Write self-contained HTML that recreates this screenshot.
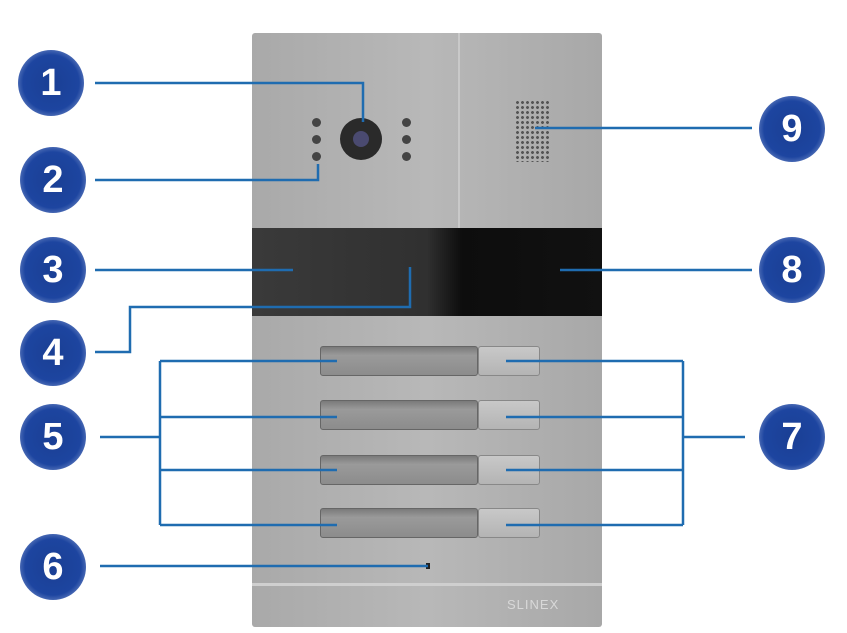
<!DOCTYPE html>
<html><head><style>
body{margin:0;width:847px;height:633px;background:#fff;position:relative;overflow:hidden;font-family:"Liberation Sans",Arial,sans-serif}
.p{position:absolute}
.c{position:absolute;width:66px;height:66px;border-radius:50%;background:radial-gradient(circle,#1a3f94 0,#1d45a0 60%,#7d95cc 85%,rgba(255,255,255,0) 100%);color:#fff;font-weight:bold;font-size:38px;line-height:66px;text-align:center}
.strip{position:absolute;left:320px;width:158px;height:30px;background:linear-gradient(#7a7a7a,#9a9a9a 30%,#8c8c8c);border:1px solid #666;border-radius:3px;box-sizing:border-box}
.btn{position:absolute;left:478px;width:62px;height:30px;background:linear-gradient(#c8c8c8,#b4b4b4);border:1px solid #888;border-radius:3px;box-sizing:border-box}
.led{position:absolute;width:9px;height:9px;border-radius:50%;background:#444}
</style></head><body>
<div class="p" style="left:252px;top:33px;width:350px;height:594px;background:linear-gradient(90deg,#a9a9a9,#b8b8b8 50%,#a8a8a8);border-radius:3px"></div>
<div class="p" style="left:458px;top:33px;width:2px;height:195px;background:#c9c9c9"></div>
<div class="p" style="left:252px;top:228px;width:350px;height:88px;background:linear-gradient(90deg,#3a3a3a,#303030 50%,#0d0d0d 60%,#111)"></div>
<div class="p" style="left:252px;top:583px;width:350px;height:3px;background:#cfcfcf"></div>
<div class="p" style="left:507px;top:597px;color:#d8d8d8;font-size:13px;letter-spacing:1px">SLINEX</div>
<div class="p" style="left:340px;top:118px;width:42px;height:42px;border-radius:50%;background:#2a2a2a"></div>
<div class="p" style="left:353px;top:131px;width:16px;height:16px;border-radius:50%;background:#4a4a70"></div>
<div class="led" style="left:312px;top:118px"></div><div class="led" style="left:312px;top:135px"></div><div class="led" style="left:312px;top:152px"></div>
<div class="led" style="left:402px;top:118px"></div><div class="led" style="left:402px;top:135px"></div><div class="led" style="left:402px;top:152px"></div>
<div class="p" style="left:515px;top:100px;width:36px;height:62px;background:radial-gradient(circle,#555 1.3px,transparent 1.6px) 0 0/5px 5px"></div>
<div class="strip" style="top:346px"></div><div class="btn" style="top:346px"></div>
<div class="strip" style="top:400px"></div><div class="btn" style="top:400px"></div>
<div class="strip" style="top:455px"></div><div class="btn" style="top:455px"></div>
<div class="strip" style="top:508px"></div><div class="btn" style="top:508px"></div>
<div class="p" style="left:426px;top:563px;width:4px;height:6px;background:#222"></div>
<svg class="p" style="left:0;top:0" width="847" height="633"><g stroke="#1f6cb0" stroke-width="2.5" fill="none">
<polyline points="95,83 363,83 363,122"/>
<polyline points="95,180 318,180 318,164"/>
<line x1="95" y1="270" x2="293" y2="270"/>
<polyline points="410,267 410,307 130,307 130,352 95,352"/>
<line x1="100" y1="437" x2="160" y2="437"/>
<line x1="160" y1="361" x2="160" y2="525"/>
<line x1="160" y1="361" x2="337" y2="361"/><line x1="160" y1="417" x2="337" y2="417"/>
<line x1="160" y1="470" x2="337" y2="470"/><line x1="160" y1="525" x2="337" y2="525"/>
<line x1="683" y1="361" x2="683" y2="525"/>
<line x1="506" y1="361" x2="683" y2="361"/><line x1="506" y1="417" x2="683" y2="417"/>
<line x1="506" y1="470" x2="683" y2="470"/><line x1="506" y1="525" x2="683" y2="525"/>
<line x1="683" y1="437" x2="745" y2="437"/>
<line x1="560" y1="270" x2="752" y2="270"/>
<line x1="535" y1="128" x2="752" y2="128"/>
<line x1="100" y1="566" x2="428" y2="566"/>
</g></svg>
<div class="c" style="left:18px;top:50px">1</div>
<div class="c" style="left:20px;top:147px">2</div>
<div class="c" style="left:20px;top:237px">3</div>
<div class="c" style="left:20px;top:320px">4</div>
<div class="c" style="left:20px;top:404px">5</div>
<div class="c" style="left:20px;top:534px">6</div>
<div class="c" style="left:759px;top:404px">7</div>
<div class="c" style="left:759px;top:237px">8</div>
<div class="c" style="left:759px;top:96px">9</div>
</body></html>
